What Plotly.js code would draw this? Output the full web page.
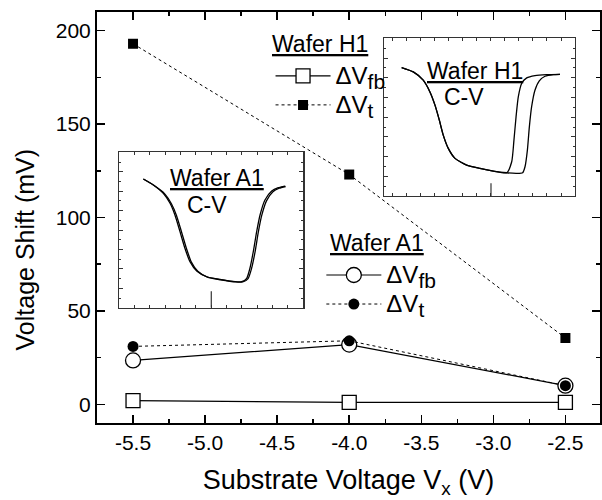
<!DOCTYPE html>
<html><head><meta charset="utf-8">
<script src="https://cdn.plot.ly/plotly-3.0.1.min.js"></script>
<style>html,body{margin:0;padding:0;background:#fff}</style>
</head><body><div id="chart" style="width:602px;height:500px"></div>
<script>
// ---- main data ----
const substrateV = [-5.5, -4.0, -2.5];
const h1Vfb = [2, 1, 1];
const h1Vt = [193, 123, 35.5];
const a1Vfb = [23.5, 32, 10];
const a1Vt = [31, 34, 10];
const xTickVals = [-5.5, -5.0, -4.5, -4.0, -3.5, -3.0, -2.5];
const xTickText = ['-5.5', '-5.0', '-4.5', '-4.0', '-3.5', '-3.0', '-2.5'];
const xMinorVals = [-5.75, -5.25, -4.75, -4.25, -3.75, -3.25, -2.75];

// ---- inset C-V curves (arbitrary units) ----
const a1CvX1 = [-4.43,-3.78,-3.13,-2.69,-2.37,-2.04,-1.72,-1.39,-0.95,-0.30,0.57,1.55,1.98,2.31,2.52,2.74,2.96,3.18,3.50,3.94,4.37,4.81];
const a1CvY1 = [13.25,12.64,11.78,10.75,9.55,7.83,6.12,4.74,3.78,3.19,2.92,2.68,2.68,3.03,4.06,5.77,7.83,9.55,11.09,12.02,12.36,12.53];
const a1CvX2 = [-4.43,-3.75,-3.05,-2.60,-2.27,-1.94,-1.62,-1.30,-0.88,-0.25,0.60,1.60,2.05,2.40,2.62,2.85,3.07,3.29,3.60,4.02,4.43,4.85];
const a1CvY2 = [13.25,12.60,11.75,10.70,9.50,7.80,6.10,4.70,3.75,3.15,2.88,2.65,2.65,3.00,4.00,5.70,7.80,9.50,11.00,11.95,12.30,12.48];
const h1CvX1 = [-6.38,-5.55,-4.84,-4.36,-4.00,-3.69,-3.41,-3.05,-2.57,-1.74,-0.79,0.17,1.12,1.48,1.64,1.79,1.95,2.19,2.55,3.14,3.98,4.93];
const h1CvY1 = [13.03,12.59,11.75,10.56,9.22,7.70,6.18,4.83,3.82,3.14,2.80,2.53,2.36,3.48,5.67,8.03,10.06,11.41,11.98,12.22,12.32,12.35];
const h1CvX2 = [-6.38,-5.55,-4.84,-4.36,-4.00,-3.69,-3.41,-3.05,-2.57,-1.74,-0.79,0.17,1.12,1.83,2.26,2.43,2.60,2.74,2.90,3.14,3.45,3.86,4.45,4.93];
const h1CvY2 = [13.03,12.59,11.75,10.56,9.22,7.70,6.18,4.83,3.82,3.14,2.80,2.53,2.36,2.30,2.36,2.97,4.66,7.02,9.04,10.73,11.68,12.15,12.32,12.35];

const FONT = 'Liberation Sans, Arial, Helvetica, sans-serif';
const cvLine = {color: '#000', width: 1.3, shape: 'spline', smoothing: 0.6};
const legName = (sub) => '<span style="font-size:24px">ΔV<sub><span style="font-size:125%">' + sub + '</span></sub></span>';

const traces = [
  {x: a1CvX1, y: a1CvY1, xaxis: 'x2', yaxis: 'y2', mode: 'lines', line: cvLine, showlegend: false, hoverinfo: 'skip'},
  {x: a1CvX2, y: a1CvY2, xaxis: 'x2', yaxis: 'y2', mode: 'lines', line: cvLine, showlegend: false, hoverinfo: 'skip'},
  {x: h1CvX1, y: h1CvY1, xaxis: 'x3', yaxis: 'y3', mode: 'lines', line: cvLine, showlegend: false, hoverinfo: 'skip'},
  {x: h1CvX2, y: h1CvY2, xaxis: 'x3', yaxis: 'y3', mode: 'lines', line: cvLine, showlegend: false, hoverinfo: 'skip'},
  {x: substrateV, y: h1Vfb, name: legName('fb'), mode: 'lines+markers', legend: 'legend',
   line: {color: '#000', width: 1.2},
   marker: {symbol: 'square', size: 14, color: '#fff', line: {color: '#000', width: 1.3}}},
  {x: substrateV, y: h1Vt, name: legName('t'), mode: 'lines+markers', legend: 'legend',
   line: {color: '#000', width: 1, dash: 'dot'},
   marker: {symbol: 'square', size: 10, color: '#000'}},
  {x: substrateV, y: a1Vfb, name: legName('fb'), mode: 'lines+markers', legend: 'legend2',
   line: {color: '#000', width: 1.2},
   marker: {symbol: 'circle', size: 15, color: '#fff', line: {color: '#000', width: 1.3}}},
  {x: substrateV, y: a1Vt, name: legName('t'), mode: 'lines+markers', legend: 'legend2',
   line: {color: '#000', width: 1, dash: 'dot'},
   marker: {symbol: 'circle', size: 11, color: '#000'}}
];

const insetAxis = {showticklabels: false, showline: true, linecolor: '#333', linewidth: 1.3, mirror: 'ticks',
  ticks: 'inside', ticklen: 3, tickcolor: '#333', tickwidth: 1, showgrid: false, zeroline: false, fixedrange: true};

const layout = {
  width: 602, height: 500,
  margin: {l: 97, r: 2, t: 12, b: 77},
  paper_bgcolor: '#fff', plot_bgcolor: '#fff',
  font: {family: FONT, color: '#000', size: 20},
  xaxis: {range: [-5.75, -2.26], tickvals: xTickVals, ticktext: xTickText,
    ticks: 'inside', ticklen: 8, tickwidth: 1.5, tickcolor: '#000',
    minor: {tickvals: xMinorVals, ticks: 'inside', ticklen: 4, tickwidth: 1.5, tickcolor: '#000', showgrid: false},
    showline: true, linewidth: 2, linecolor: '#000', mirror: 'ticks', showgrid: false, zeroline: false,
    tickfont: {size: 21}, title: {text: 'Substrate Voltage V<sub>x</sub> (V)', font: {size: 27}, standoff: 17}},
  yaxis: {range: [-10, 210], tick0: 0, dtick: 50,
    ticks: 'inside', ticklen: 8, tickwidth: 1.5, tickcolor: '#000',
    minor: {dtick: 25, ticks: 'inside', ticklen: 4, tickwidth: 1.5, tickcolor: '#000', showgrid: false},
    showline: true, linewidth: 2, linecolor: '#000', mirror: 'ticks', showgrid: false, zeroline: false,
    tickfont: {size: 21}},
  xaxis2: Object.assign({}, insetAxis, {domain: [0.0443, 0.4101], range: [-6, 6], dtick: 1, tick0: 0, anchor: 'y2'}),
  yaxis2: Object.assign({}, insetAxis, {domain: [0.2805, 0.6586], range: [0, 16], dtick: 2, tick0: 0, ticklen: 4, anchor: 'x2',
    minor: {dtick: 1, ticks: 'inside', ticklen: 2, tickcolor: '#333'}}),
  xaxis3: Object.assign({}, insetAxis, {domain: [0.5706, 0.9503], range: [-7.64, 6.0], dtick: 1, tick0: 0, anchor: 'y3'}),
  yaxis3: Object.assign({}, insetAxis, {domain: [0.5523, 0.9360], range: [0, 16], dtick: 2, tick0: 0, ticklen: 4, anchor: 'x3',
    minor: {dtick: 1, ticks: 'inside', ticklen: 2, tickcolor: '#333'}}),
  legend: {x: 0.345, y: 0.892, xanchor: 'left', yanchor: 'top', bgcolor: 'rgba(0,0,0,0)', borderwidth: 0,
    font: {size: 20}, itemwidth: 55, tracegroupgap: 0},
  legend2: {x: 0.446, y: 0.4075, xanchor: 'left', yanchor: 'top', bgcolor: 'rgba(0,0,0,0)', borderwidth: 0,
    font: {size: 20}, itemwidth: 55, tracegroupgap: 0},
  shapes: [
    {type: 'line', xref: 'x2', yref: 'y2', x0: 0, x1: 0, y0: 0, y1: 1.7, line: {color: '#333', width: 1.2}},
    {type: 'line', xref: 'x3', yref: 'y3', x0: 0, x1: 0, y0: 0, y1: 1.3, line: {color: '#333', width: 1.2}}
  ],
  annotations: [
    {xref: 'paper', yref: 'paper', x: -0.143, y: 0.42, text: 'Voltage Shift (mV)', textangle: -90, showarrow: false,
     xanchor: 'center', yanchor: 'middle', font: {size: 25}},
    {xref: 'paper', yref: 'paper', x: 0.4433, y: 0.9221, text: '<u>Wafer H1</u>', showarrow: false,
     xanchor: 'center', yanchor: 'middle', font: {size: 23}},
    {xref: 'paper', yref: 'paper', x: 0.5557, y: 0.438, text: '<u>Wafer A1</u>', showarrow: false,
     xanchor: 'center', yanchor: 'middle', font: {size: 23}},
    {xref: 'x2', yref: 'y2', x: 0.37, y: 13.36, text: '<u>Wafer A1</u>', showarrow: false, font: {size: 23}},
    {xref: 'x2', yref: 'y2', x: -0.30, y: 10.58, text: 'C-V', showarrow: false, font: {size: 23}},
    {xref: 'x3', yref: 'y3', x: -1.14, y: 12.7, text: '<u>Wafer H1</u>', showarrow: false, font: {size: 23}},
    {xref: 'x3', yref: 'y3', x: -1.93, y: 10.07, text: 'C-V', showarrow: false, font: {size: 23}}
  ]
};

Plotly.newPlot('chart', traces, layout, {displayModeBar: false, staticPlot: true});
</script></body></html>
